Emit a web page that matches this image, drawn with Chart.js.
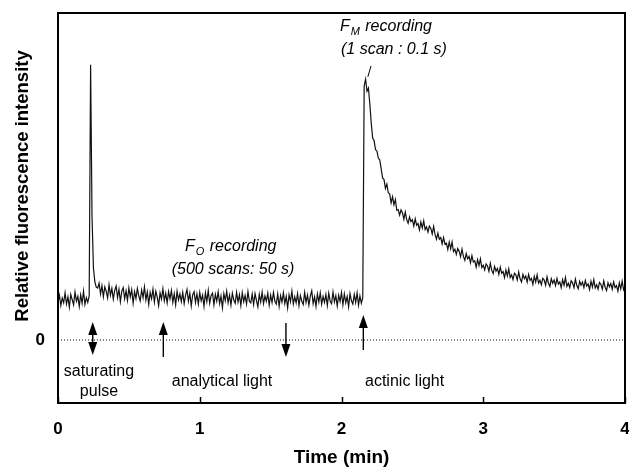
<!DOCTYPE html>
<html>
<head>
<meta charset="utf-8">
<title>Chlorophyll fluorescence trace</title>
<script src="https://cdn.jsdelivr.net/npm/chart.js@4.4.1/dist/chart.umd.min.js"></script>
<style>
  html, body { margin: 0; padding: 0; background: #fff; }
  #wrap { width: 629px; height: 471px; }
</style>
</head>
<body>
<div id="wrap"><canvas id="trace" width="629" height="471"></canvas></div>
<script>
// --- DATA (relative units, 0 = dotted zero line; one sample every 0.01 min) ---
const sampleStep = 0.01;

// 0.00 - 0.22 min, before the saturating pulse
const darkTrace = [
  0.95, 1.12, 0.86, 1.05, 0.93, 1.18, 0.90, 1.08, 0.82, 1.14,
  1.01, 0.88, 1.20, 0.97, 1.09, 0.84, 1.13, 0.92, 1.22, 0.89,
  1.06, 0.94, 1.10
];

// 0.23 - 0.27 min
const pulseTrace = [6.88, 3.10, 1.80, 1.45, 1.32];

// 0.28 - 2.15 min, analytical light only (F0 recording)
const analyticalTrace = [
  1.30, 1.42, 1.15, 1.36, 1.08, 1.33, 1.22, 1.05, 1.38, 1.12,
  1.29, 1.02, 1.24, 1.35, 1.06, 1.27, 0.96, 1.22, 1.31, 1.03,
  1.23, 0.99, 1.30, 1.08, 1.26, 0.92, 1.21, 1.04, 1.29, 1.10,
  0.98, 1.25, 1.06, 1.33, 1.00, 1.20, 0.89, 1.19, 1.03, 1.27,
  0.95, 1.22, 1.08, 0.86, 1.18, 1.02, 1.28, 0.98, 1.17, 0.93,
  1.21, 1.03, 1.24, 0.94, 1.16, 0.88, 1.22, 1.00, 1.15, 0.96,
  1.19, 0.91, 1.12, 1.26, 0.97, 1.17, 0.85, 1.13, 1.21, 0.94,
  1.15, 0.90, 1.19, 0.98, 1.12, 0.84, 1.18, 0.96, 1.24, 0.92,
  1.11, 1.17, 0.88, 1.14, 0.97, 1.20, 0.91, 1.10, 0.80, 1.16,
  0.98, 1.22, 0.93, 1.12, 0.87, 1.17, 1.00, 0.92, 1.19, 0.95,
  1.13, 0.86, 1.18, 0.96, 1.11, 0.90, 1.21, 0.97, 0.93, 1.15,
  0.89, 1.16, 0.99, 0.83, 1.14, 0.95, 1.20, 0.91, 1.10, 0.97,
  1.17, 0.87, 1.12, 0.94, 1.19, 0.97, 0.90, 1.15, 0.84, 1.11,
  0.95, 1.18, 0.91, 1.09, 0.80, 1.13, 0.96, 1.22, 0.90, 1.08,
  0.93, 1.16, 0.86, 1.11, 0.97, 0.89, 1.19, 0.94, 1.12, 0.87,
  1.10, 1.23, 0.91, 1.08, 0.84, 1.15, 0.95, 1.18, 0.90, 1.09,
  0.94, 1.14, 0.86, 1.17, 0.97, 0.91, 1.20, 0.95, 1.11, 0.85,
  1.12, 0.96, 1.19, 0.88, 1.15, 0.93, 1.09, 0.83, 1.16, 0.98,
  0.90, 1.14, 0.94, 1.18, 0.87, 1.10, 0.92, 1.06
];

// 2.16 - 4.00 min, actinic light on (FM then decay)
const actinicTrace = [
  6.35, 6.52, 6.22, 6.30, 5.90, 5.42, 5.05, 4.98, 4.76, 4.72,
  4.55, 4.50, 4.28, 4.05,
  4.01, 3.79, 3.90, 3.68, 3.65, 3.43, 3.58, 3.38, 3.51, 3.24,
  3.26, 3.12, 3.25, 3.18, 3.02, 3.20, 3.01, 2.92, 3.08, 2.96,
  3.01, 2.85, 3.03, 2.87, 2.91, 2.75, 2.95, 2.80, 2.98, 2.76,
  2.83, 2.70, 2.85, 2.79, 2.65, 2.84, 2.64, 2.52, 2.67, 2.52,
  2.56, 2.40, 2.56, 2.40, 2.42, 2.26, 2.45, 2.28, 2.45, 2.21,
  2.27, 2.14, 2.29, 2.22, 2.08, 2.27, 2.09, 1.99, 2.16, 2.03,
  2.09, 1.93, 2.11, 1.95, 1.98, 1.82, 2.01, 1.86, 2.03, 1.81,
  1.87, 1.75, 1.90, 1.85, 1.72, 1.92, 1.74, 1.66, 1.84, 1.72,
  1.79, 1.64, 1.82, 1.67, 1.71, 1.56, 1.75, 1.60, 1.78, 1.56,
  1.63, 1.51, 1.67, 1.63, 1.50, 1.70, 1.53, 1.45, 1.64, 1.53,
  1.60, 1.45, 1.64, 1.49, 1.54, 1.39, 1.59, 1.45, 1.63, 1.42,
  1.49, 1.38, 1.54, 1.50, 1.37, 1.58, 1.42, 1.34, 1.53, 1.42,
  1.50, 1.36, 1.54, 1.40, 1.45, 1.31, 1.51, 1.37, 1.56, 1.34,
  1.42, 1.31, 1.48, 1.43, 1.31, 1.52, 1.36, 1.28, 1.47, 1.37,
  1.45, 1.31, 1.49, 1.35, 1.40, 1.26, 1.47, 1.32, 1.51, 1.30,
  1.38, 1.27, 1.44, 1.39, 1.27, 1.48, 1.32, 1.24, 1.43, 1.33,
  1.41, 1.27, 1.45, 1.31, 1.36, 1.22, 1.43, 1.28, 1.47, 1.26,
  1.34
];

const timeTicks = [0, 1, 2, 3, 4];
const intensityTicks = [0];
const zeroLine = [{ x: 0, y: 0 }, { x: 4, y: 0 }];

// light events marked under the trace (min)
const lightEventTimes = [0.245, 0.743, 1.608, 2.154];
const lightEventKinds = ['both', 'up', 'down', 'up'];

// --- ANNOTATION LAYOUT (value units on the axes) ---
const arrowSpans = [
  { top: 0.45, bottom: -0.375 },
  { top: 0.45, bottom: -0.425 },
  { top: 0.425, bottom: -0.425 },
  { top: 0.625, bottom: -0.25 }
];

const plainLabels = [
  { text: 'saturating', t: 0.289, v: -0.79, align: 'center' },
  { text: 'pulse', t: 0.289, v: -1.29, align: 'center' },
  { text: 'analytical light', t: 1.157, v: -1.04, align: 'center' },
  { text: 'actinic light', t: 2.166, v: -1.04, align: 'left' },
  { text: '(500 scans: 50 s)', t: 1.235, v: 1.75, align: 'center', italic: true },
  { text: '(1 scan : 0.1 s)', t: 2.37, v: 7.25, align: 'center', italic: true }
];

const subscriptLabels = [
  { main: 'F', sub: 'O', rest: ' recording', t: 1.215, v: 2.33 },
  { main: 'F', sub: 'M', rest: ' recording', t: 2.31, v: 7.83 }
];

const FONT = "'Liberation Sans', Arial, Helvetica, sans-serif";

const fullTrace = [].concat(darkTrace, pulseTrace, analyticalTrace, actinicTrace);
const tracePoints = fullTrace.map((v, i) => ({ x: +(i * sampleStep).toFixed(2), y: v }));

// --- HELPERS ---
const drawArrow = (ctx, x, yTop, yBottom, kind) => {
  const hw = 4.5, hh = 13;
  ctx.beginPath();
  ctx.moveTo(x, kind === 'down' ? yTop : yTop + hh - 1);
  ctx.lineTo(x, kind === 'up' ? yBottom : yBottom - hh + 1);
  ctx.stroke();
  if (kind === 'up' || kind === 'both') {
    ctx.beginPath();
    ctx.moveTo(x, yTop);
    ctx.lineTo(x - hw, yTop + hh);
    ctx.lineTo(x + hw, yTop + hh);
    ctx.closePath();
    ctx.fill();
  }
  if (kind === 'down' || kind === 'both') {
    ctx.beginPath();
    ctx.moveTo(x, yBottom);
    ctx.lineTo(x - hw, yBottom - hh);
    ctx.lineTo(x + hw, yBottom - hh);
    ctx.closePath();
    ctx.fill();
  }
};

// scales keep no extra room for their own labels: the frame is fixed
const noScalePadding = s => {
  s.paddingTop = 0;
  s.paddingBottom = 0;
  s.paddingLeft = 0;
  s.paddingRight = 0;
};

const annotationPlugin = {
  id: 'traceAnnotations',
  afterDraw(chart) {
    const { ctx, chartArea: area, scales: { x, y } } = chart;
    ctx.save();
    ctx.fillStyle = '#000';
    ctx.strokeStyle = '#000';

    // frame
    ctx.lineWidth = 2;
    ctx.strokeRect(area.left, area.top, area.right - area.left, area.bottom - area.top);

    // inward ticks on the time axis
    ctx.lineWidth = 1.5;
    timeTicks.forEach(t => {
      const px = Math.round(x.getPixelForValue(t)) + 0.5;
      ctx.beginPath();
      ctx.moveTo(px, area.bottom);
      ctx.lineTo(px, area.bottom - 6);
      ctx.stroke();
    });

    // light event arrows
    ctx.lineWidth = 1.4;
    lightEventTimes.forEach((t, i) => {
      const px = x.getPixelForValue(t);
      drawArrow(ctx, px, y.getPixelForValue(arrowSpans[i].top),
        y.getPixelForValue(arrowSpans[i].bottom), lightEventKinds[i]);
    });

    // plain text labels
    ctx.textBaseline = 'middle';
    plainLabels.forEach(l => {
      ctx.font = (l.italic ? 'italic ' : '') + '16px ' + FONT;
      ctx.textAlign = l.align;
      ctx.fillText(l.text, x.getPixelForValue(l.t), y.getPixelForValue(l.v));
    });

    // F with subscript labels
    ctx.textAlign = 'left';
    subscriptLabels.forEach(l => {
      const big = 'italic 16px ' + FONT, small = 'italic 11px ' + FONT;
      ctx.font = big;
      const wMain = ctx.measureText(l.main).width;
      const wRest = ctx.measureText(l.rest).width;
      ctx.font = small;
      const wSub = ctx.measureText(l.sub).width + 1;
      let px = x.getPixelForValue(l.t) - (wMain + wSub + wRest) / 2;
      const py = y.getPixelForValue(l.v);
      ctx.font = big;
      ctx.fillText(l.main, px, py);
      px += wMain + 1;
      ctx.font = small;
      ctx.fillText(l.sub, px, py + 5);
      px += wSub;
      ctx.font = big;
      ctx.fillText(l.rest, px, py);
    });

    // leader from the FM label to the peak
    ctx.lineWidth = 1;
    ctx.beginPath();
    ctx.moveTo(x.getPixelForValue(2.208), y.getPixelForValue(6.85));
    ctx.lineTo(x.getPixelForValue(2.186), y.getPixelForValue(6.58));
    ctx.stroke();

    // y axis title
    ctx.save();
    ctx.translate(23, area.top + 173);
    ctx.rotate(-Math.PI / 2);
    ctx.textAlign = 'center';
    ctx.font = 'bold 18.5px ' + FONT;
    ctx.fillText('Relative fluorescence intensity', 0, 0);
    ctx.restore();

    ctx.restore();
  }
};

// --- CHART ---
new Chart(document.getElementById('trace'), {
  type: 'line',
  data: {
    datasets: [
      {
        data: tracePoints,
        borderColor: '#111',
        borderWidth: 1.2,
        pointRadius: 0,
        tension: 0
      },
      {
        data: zeroLine,
        borderColor: '#000',
        borderWidth: 1,
        borderDash: [1, 2],
        pointRadius: 0
      }
    ]
  },
  options: {
    responsive: false,
    animation: false,
    events: [],
    layout: { padding: { top: 13, right: 4, left: 0, bottom: 0 } },
    plugins: { legend: { display: false }, tooltip: { enabled: false } },
    scales: {
      x: {
        type: 'linear',
        min: 0,
        max: 4,
        afterBuildTicks: s => { s.ticks = timeTicks.map(v => ({ value: v })); },
        afterFit: s => { s.height = 68; noScalePadding(s); },
        grid: { display: false, drawTicks: false },
        border: { display: false },
        ticks: {
          padding: 16,
          color: '#000',
          font: { family: FONT, size: 17, weight: 'bold' }
        },
        title: {
          display: true,
          text: 'Time (min)',
          color: '#000',
          padding: { top: 0, bottom: 2 },
          font: { family: FONT, size: 19, weight: 'bold', lineHeight: 1.2 }
        }
      },
      y: {
        min: -1.575,
        max: 8.175,
        afterBuildTicks: s => { s.ticks = intensityTicks.map(v => ({ value: v })); },
        afterFit: s => { s.width = 58; noScalePadding(s); },
        grid: { display: false, drawTicks: false },
        border: { display: false },
        ticks: {
          padding: 13,
          color: '#000',
          font: { family: FONT, size: 17, weight: 'bold' }
        }
      }
    }
  },
  plugins: [annotationPlugin]
});
</script>
</body>
</html>
